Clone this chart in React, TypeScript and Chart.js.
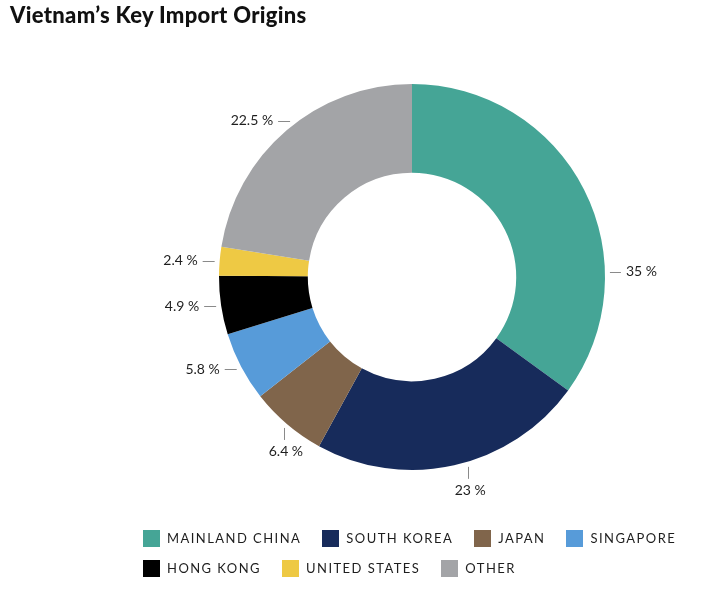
import React, { useEffect, useRef } from "react";
import { Chart, registerables } from "chart.js";

Chart.register(...registerables);

const TITLE = "Vietnam’s Key Import Origins";
const categories = ["MAINLAND CHINA", "SOUTH KOREA", "JAPAN", "SINGAPORE", "HONG KONG", "UNITED STATES", "OTHER"];
const values = [35, 23, 6.4, 5.8, 4.9, 2.4, 22.5];
const valueLabels = ["35 %", "23 %", "6.4 %", "5.8 %", "4.9 %", "2.4 %", "22.5 %"];
const colors = ["#45a596", "#172b5b", "#80654b", "#579bd9", "#000000", "#eec944", "#a3a4a7"];
// optional label angle (degrees clockwise from top), null = segment middle
const labelAngles: (number | null)[] = [88.5, 163.5, null, null, null, null, 322];

const FONT = "Lato, 'Open Sans', sans-serif";

const labelPlugin = {
  id: "outerLabels",
  afterDatasetsDraw(chart: any) {
    const ctx = chart.ctx;
    const meta = chart.getDatasetMeta(0);
    ctx.save();
    ctx.font = `14px ${FONT}`;
    ctx.fillStyle = "#1e1e1e";
    ctx.strokeStyle = "#8a8a8a";
    ctx.lineWidth = 1;
    meta.data.forEach((arc: any, i: number) => {
      const { x, y, outerRadius, startAngle, endAngle } = arc.getProps(
        ["x", "y", "outerRadius", "startAngle", "endAngle"],
        true
      );
      const ov = labelAngles[i];
      const a = ov != null ? (ov * Math.PI) / 180 - Math.PI / 2 : (startAngle + endAngle) / 2;
      const deg = (((a + Math.PI / 2) * 180) / Math.PI + 360) % 360;
      const r = outerRadius + 5;
      const px = x + r * Math.cos(a);
      const py = y + r * Math.sin(a);
      const txt = valueLabels[i];
      ctx.beginPath();
      if (deg > 150 && deg < 230) {
        ctx.moveTo(Math.round(px) + 0.5, py);
        ctx.lineTo(Math.round(px) + 0.5, py + 12);
        ctx.stroke();
        ctx.textAlign = "center";
        ctx.textBaseline = "middle";
        ctx.fillText(txt, px + 2, py + 24);
      } else if (deg >= 230) {
        ctx.moveTo(px - 12, Math.round(py) + 0.5);
        ctx.lineTo(px, Math.round(py) + 0.5);
        ctx.stroke();
        ctx.textAlign = "right";
        ctx.textBaseline = "middle";
        ctx.fillText(txt, px - 17, py);
      } else {
        ctx.moveTo(px, Math.round(py) + 0.5);
        ctx.lineTo(px + 11, Math.round(py) + 0.5);
        ctx.stroke();
        ctx.textAlign = "left";
        ctx.textBaseline = "middle";
        ctx.fillText(txt, px + 16, py);
      }
    });
    ctx.restore();
  },
};

export default function App() {
  const ref = useRef<HTMLCanvasElement>(null);
  useEffect(() => {
    if (!ref.current) return;
    const chart = new Chart(ref.current, {
      type: "doughnut",
      data: {
        labels: categories,
        datasets: [
          {
            data: values,
            backgroundColor: colors,
            borderWidth: 0,
            hoverOffset: 0,
          },
        ],
      },
      options: {
        animation: false,
        responsive: false,
        cutout: "54%",
        layout: { padding: { top: 84, bottom: 123, left: 219, right: 117 } },
        plugins: {
          legend: { display: false },
          title: { display: false },
          tooltip: { enabled: false },
        },
      },
      plugins: [labelPlugin],
    });
    return () => chart.destroy();
  }, []);

  return (
    <div style={{ position: "fixed", left: 0, top: 0, width: 722, height: 593, background: "#fff", overflow: "hidden" }}>
      <canvas ref={ref} width={722} height={593} style={{ position: "absolute", left: 0, top: 0, width: 722, height: 593 }} />
      <div
        style={{
          position: "absolute",
          left: 10,
          top: 1,
          fontFamily: FONT,
          fontWeight: 900,
          fontSize: 22,
          color: "#111",
          letterSpacing: 0.3,
          whiteSpace: "nowrap",
        }}
      >
        {TITLE}
      </div>
      <div
        style={{
          position: "absolute",
          left: 143,
          top: 529,
          width: 560,
          display: "flex",
          flexWrap: "wrap",
          columnGap: 21,
          rowGap: 12,
          fontFamily: FONT,
          fontSize: 13,
          letterSpacing: 1.45,
          color: "#1e1e1e",
        }}
      >
        {categories.map((c, i) => (
          <div key={c} style={{ display: "flex", alignItems: "center", height: 18 }}>
            <span style={{ display: "inline-block", width: 17, height: 17, background: colors[i], marginRight: 7 }} />
            <span style={{ lineHeight: "18px", whiteSpace: "nowrap" }}>{c}</span>
          </div>
        ))}
      </div>
    </div>
  );
}
